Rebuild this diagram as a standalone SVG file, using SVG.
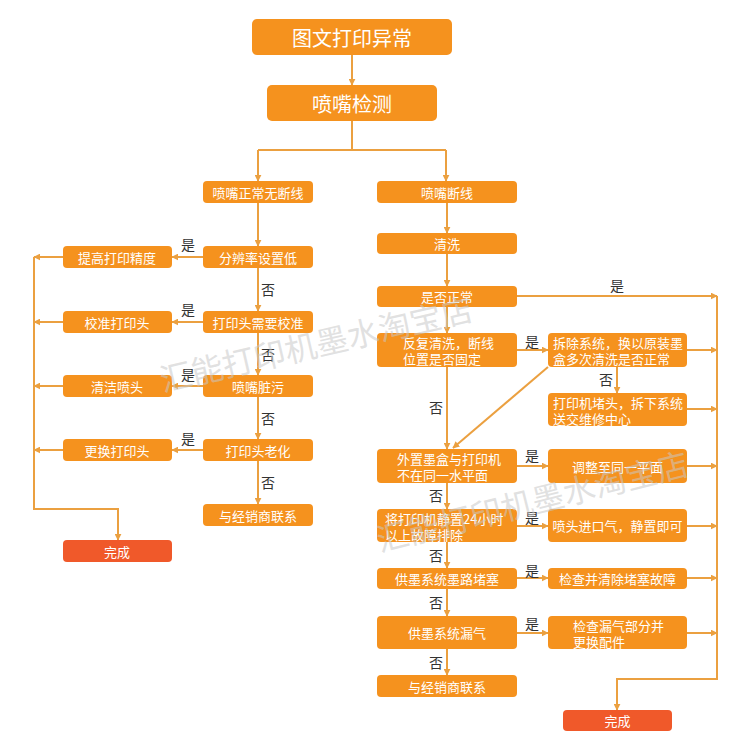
<svg xmlns="http://www.w3.org/2000/svg" width="750" height="750" viewBox="0 0 750 750">
<defs>
<marker id="ah" viewBox="0 0 10 10" refX="9" refY="5" markerWidth="7" markerHeight="7" orient="auto" markerUnits="userSpaceOnUse">
<path d="M0,0 L10,5 L0,10 z" fill="#EBA040"/>
</marker>
<style>
.box{fill:#F5921E;}
.done{fill:#F0592A;}
.t{fill:#FFFFFF;font-family:"Noto Sans CJK SC","Noto Sans",sans-serif;font-size:13px;dominant-baseline:central;}
.c{text-anchor:middle;}
.big{font-size:20px;}
.lbl{fill:#333333;font-family:"Noto Sans CJK SC","Noto Sans",sans-serif;font-size:14px;text-anchor:middle;dominant-baseline:central;}
.ln{fill:none;stroke:#EBA040;stroke-width:2;}
.ar{fill:none;stroke:#EBA040;stroke-width:2;marker-end:url(#ah);}
.wm{fill:#C8C8C8;fill-opacity:0.55;font-family:"Noto Sans CJK SC",sans-serif;font-size:32px;}
</style>
</defs>
<rect width="750" height="750" fill="#FFFFFF"/>

<g id="connectors">
<line class="ar" x1="352" y1="55" x2="352" y2="85"/>
<polyline class="ln" points="352,121 352,150"/>
<polyline class="ln" points="258,150 446,150"/>
<line class="ar" x1="258" y1="150" x2="258" y2="181"/>
<line class="ar" x1="446" y1="150" x2="446" y2="181"/>
<!-- left column -->
<line class="ar" x1="258" y1="203" x2="258" y2="246"/>
<line class="ar" x1="258" y1="268" x2="258" y2="311"/>
<line class="ar" x1="258" y1="333" x2="258" y2="375"/>
<line class="ar" x1="258" y1="397" x2="258" y2="439"/>
<line class="ar" x1="258" y1="461" x2="258" y2="504"/>
<line class="ar" x1="203" y1="257" x2="172" y2="257"/>
<line class="ar" x1="203" y1="322" x2="172" y2="322"/>
<line class="ar" x1="203" y1="386" x2="172" y2="386"/>
<line class="ar" x1="203" y1="450" x2="172" y2="450"/>
<line class="ar" x1="63" y1="257" x2="34" y2="257"/>
<line class="ar" x1="63" y1="322" x2="34" y2="322"/>
<line class="ar" x1="63" y1="386" x2="34" y2="386"/>
<line class="ar" x1="63" y1="450" x2="34" y2="450"/>
<polyline class="ar" points="34,257 34,509 118,509 118,540"/>
<!-- right column -->
<line class="ar" x1="447" y1="203" x2="447" y2="233"/>
<line class="ar" x1="447" y1="254" x2="447" y2="286"/>
<line class="ar" x1="447" y1="307" x2="447" y2="333"/>
<line class="ar" x1="447" y1="367" x2="447" y2="449"/>
<line class="ar" x1="447" y1="483" x2="447" y2="509"/>
<line class="ar" x1="447" y1="542" x2="447" y2="568"/>
<line class="ar" x1="447" y1="589" x2="447" y2="616"/>
<line class="ar" x1="447" y1="649" x2="447" y2="675"/>
<line class="ar" x1="517" y1="296" x2="717" y2="296"/>
<line class="ar" x1="517" y1="350" x2="548" y2="350"/>
<line class="ar" x1="517" y1="466" x2="548" y2="466"/>
<line class="ar" x1="517" y1="526" x2="548" y2="526"/>
<line class="ar" x1="517" y1="578" x2="548" y2="578"/>
<line class="ar" x1="517" y1="633" x2="548" y2="633"/>
<line class="ar" x1="687" y1="350" x2="717" y2="350"/>
<line class="ar" x1="687" y1="409" x2="717" y2="409"/>
<line class="ar" x1="687" y1="466" x2="717" y2="466"/>
<line class="ar" x1="687" y1="526" x2="717" y2="526"/>
<line class="ar" x1="687" y1="578" x2="717" y2="578"/>
<line class="ar" x1="687" y1="633" x2="717" y2="633"/>
<line class="ar" x1="617" y1="367" x2="617" y2="393"/>
<line class="ar" x1="548" y1="367" x2="453" y2="448"/>
<polyline class="ar" points="717,296 717,679 617,679 617,710"/>
<!-- labels -->
<text class="lbl" x="188" y="244">是</text>
<text class="lbl" x="188" y="309">是</text>
<text class="lbl" x="188" y="374">是</text>
<text class="lbl" x="188" y="438">是</text>
<text class="lbl" x="268" y="289">否</text>
<text class="lbl" x="268" y="354">否</text>
<text class="lbl" x="268" y="418">否</text>
<text class="lbl" x="268" y="482">否</text>
<text class="lbl" x="617" y="285">是</text>
<text class="lbl" x="532" y="341">是</text>
<text class="lbl" x="606" y="379">否</text>
<text class="lbl" x="436" y="407">否</text>
<text class="lbl" x="532" y="455">是</text>
<text class="lbl" x="436" y="495">否</text>
<text class="lbl" x="532" y="517">是</text>
<text class="lbl" x="436" y="555">否</text>
<text class="lbl" x="532" y="570">是</text>
<text class="lbl" x="436" y="602">否</text>
<text class="lbl" x="532" y="623">是</text>
<text class="lbl" x="436" y="662">否</text>
</g>

<g id="n_title"><rect class="box" x="252" y="19" width="200" height="36" rx="5"/><text class="t c big" x="352" y="37">图文打印异常</text></g>
<g id="n_detect"><rect class="box" x="267" y="85" width="170" height="36" rx="5"/><text class="t c big" x="352" y="103">喷嘴检测</text></g>

<g id="n_ok"><rect class="box" x="203" y="181" width="110" height="22" rx="4"/><text class="t c" x="258" y="192">喷嘴正常无断线</text></g>
<g id="n_res"><rect class="box" x="203" y="246" width="110" height="22" rx="4"/><text class="t c" x="258" y="257">分辨率设置低</text></g>
<g id="n_cal"><rect class="box" x="203" y="311" width="110" height="22" rx="4"/><text class="t c" x="258" y="322">打印头需要校准</text></g>
<g id="n_dirty"><rect class="box" x="203" y="375" width="110" height="22" rx="4"/><text class="t c" x="258" y="386">喷嘴脏污</text></g>
<g id="n_old"><rect class="box" x="203" y="439" width="110" height="22" rx="4"/><text class="t c" x="258" y="450">打印头老化</text></g>
<g id="n_dealer1"><rect class="box" x="203" y="504" width="110" height="22" rx="4"/><text class="t c" x="258" y="515">与经销商联系</text></g>

<g id="n_prec"><rect class="box" x="63" y="246" width="109" height="22" rx="4"/><text class="t c" x="117" y="257">提高打印精度</text></g>
<g id="n_calib"><rect class="box" x="63" y="311" width="109" height="22" rx="4"/><text class="t c" x="117" y="322">校准打印头</text></g>
<g id="n_clean"><rect class="box" x="63" y="375" width="109" height="22" rx="4"/><text class="t c" x="117" y="386">清洁喷头</text></g>
<g id="n_replace"><rect class="box" x="63" y="439" width="109" height="22" rx="4"/><text class="t c" x="117" y="450">更换打印头</text></g>
<g id="n_done1"><rect class="done" x="63" y="540" width="109" height="22" rx="4"/><text class="t c" x="117" y="551">完成</text></g>

<g id="n_broken"><rect class="box" x="377" y="181" width="140" height="22" rx="4"/><text class="t c" x="447" y="192">喷嘴断线</text></g>
<g id="n_wash"><rect class="box" x="377" y="233" width="140" height="21" rx="4"/><text class="t c" x="447" y="243.5">清洗</text></g>
<g id="n_normal"><rect class="box" x="377" y="286" width="140" height="21" rx="4"/><text class="t c" x="447" y="296.5">是否正常</text></g>
<g id="n_repeat"><rect class="box" x="377" y="333" width="140" height="34" rx="4"/><text class="t" x="403" y="342">反复清洗，断线</text><text class="t" x="403" y="358">位置是否固定</text></g>
<g id="n_level"><rect class="box" x="377" y="449" width="140" height="34" rx="4"/><text class="t" x="397" y="458">外置墨盒与打印机</text><text class="t" x="397" y="474">不在同一水平面</text></g>
<g id="n_rest"><rect class="box" x="377" y="509" width="140" height="33" rx="4"/><text class="t" x="385" y="518">将打印机静置24小时</text><text class="t" x="385" y="534">以上故障排除</text></g>
<g id="n_block"><rect class="box" x="377" y="568" width="140" height="21" rx="4"/><text class="t c" x="447" y="578.5">供墨系统墨路堵塞</text></g>
<g id="n_leak"><rect class="box" x="377" y="616" width="140" height="33" rx="4"/><text class="t c" x="447" y="632.5">供墨系统漏气</text></g>
<g id="n_dealer2"><rect class="box" x="377" y="675" width="140" height="22" rx="4"/><text class="t c" x="447" y="686">与经销商联系</text></g>

<g id="n_remove"><rect class="box" x="548" y="333" width="139" height="34" rx="4"/><text class="t" x="553" y="342">拆除系统，换以原装墨</text><text class="t" x="553" y="358">盒多次清洗是否正常</text></g>
<g id="n_repair"><rect class="box" x="548" y="393" width="139" height="33" rx="4"/><text class="t" x="553" y="402">打印机堵头，拆下系统</text><text class="t" x="553" y="418">送交维修中心</text></g>
<g id="n_adjust"><rect class="box" x="548" y="449" width="139" height="34" rx="4"/><text class="t c" x="617.5" y="466">调整至同一平面</text></g>
<g id="n_air"><rect class="box" x="548" y="509" width="139" height="33" rx="4"/><text class="t c" x="617.5" y="525.5">喷头进口气，静置即可</text></g>
<g id="n_clear"><rect class="box" x="548" y="568" width="139" height="21" rx="4"/><text class="t c" x="617.5" y="578.5">检查并清除堵塞故障</text></g>
<g id="n_parts"><rect class="box" x="548" y="616" width="139" height="33" rx="4"/><text class="t" x="573" y="625">检查漏气部分并</text><text class="t" x="573" y="641">更换配件</text></g>
<g id="n_done2"><rect class="done" x="563" y="710" width="109" height="21" rx="4"/><text class="t c" x="617.5" y="720.5">完成</text></g>

<g id="watermark">
<text class="wm" transform="translate(163,392) rotate(-13)">汇能打印机墨水淘宝店</text>
<text class="wm" transform="translate(380,552) rotate(-14)">汇能打印机墨水淘宝店</text>
</g>
</svg>
